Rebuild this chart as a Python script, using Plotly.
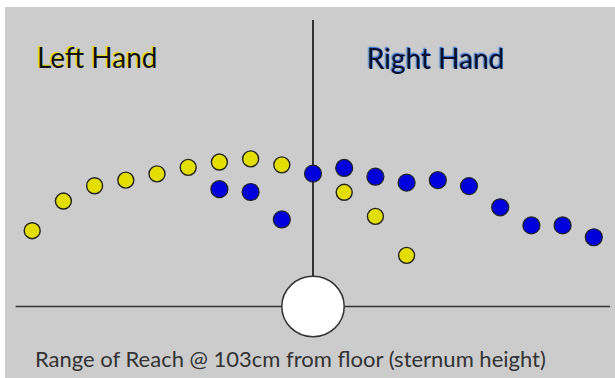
import plotly.graph_objects as go

# Reach positions (grid units, 0 = body centre line / floor line)
left_x = [-9, -8, -7, -6, -5, -4, -3, -2, -1, 1, 2, 3]
left_y = [2.43, 3.38, 3.87, 4.05, 4.25, 4.46, 4.63, 4.73, 4.54, 3.66, 2.89, 1.64]

right_x = [-3, -2, -1, 0, 1, 2, 3, 4, 5, 6, 7, 8, 9]
right_y = [3.76, 3.67, 2.79, 4.26, 4.44, 4.16, 3.97, 4.05, 3.86, 3.18, 2.60, 2.60, 2.22]

labels = ["Left Hand", "Right Hand"]
caption = "Range of Reach @ 103cm from floor (sternum height)"

YELLOW = "#e3de00"
BLUE = "#0000dc"
LINE = "#333333"
BG = "#cccccc"
FONT = "Lato"

fig = go.Figure()

# reference lines and body
fig.add_shape(type="line", x0=-9.53, x1=9.52, y0=0, y1=0, line=dict(color=LINE, width=1.5), layer="below")
fig.add_shape(type="line", x0=0, x1=0, y0=0, y1=9.18, line=dict(color=LINE, width=2), layer="below")
fig.add_shape(type="circle", x0=-1.0, x1=1.0, y0=-0.97, y1=0.97,
              fillcolor="white", line=dict(color=LINE, width=1.5), layer="below")

fig.add_trace(go.Scatter(x=left_x, y=left_y, mode="markers", name=labels[0], hoverinfo="skip",
                         marker=dict(size=16, color=YELLOW, line=dict(color="#222222", width=1.4))))
fig.add_trace(go.Scatter(x=right_x, y=right_y, mode="markers", name=labels[1], hoverinfo="skip",
                         marker=dict(size=17, color=BLUE, line=dict(color="#222222", width=1.2))))

W, H = 615, 378
L, T = 5, 7
PW, PH = W - L, H - T

def px(x):
    return (x - L) / PW

def py(y):
    return (H - y) / PH

anns = [
    dict(text=labels[0], x=px(35), y=py(57),
         font=dict(family=FONT, size=28, color="#111111", shadow="-1.5px -1.5px 1px " + YELLOW)),
    dict(text=labels[1], x=px(365), y=py(58),
         font=dict(family=FONT, size=28, color="#0a0f30", shadow="-1px -1px 1.5px #1a5fd8")),
    dict(text=caption, x=px(33), y=py(358), font=dict(family=FONT, size=22, color="#333333")),
]
for a in anns:
    a.update(xref="paper", yref="paper", xanchor="left", yanchor="middle", showarrow=False)

fig.update_layout(
    width=W, height=H,
    margin=dict(l=L, r=0, t=T, b=0),
    paper_bgcolor="white", plot_bgcolor=BG,
    showlegend=False,
    xaxis=dict(range=[(L - 313) / 31.2, (W - 313) / 31.2], visible=False, fixedrange=True),
    yaxis=dict(range=[(306.5 - H) / 31.2, (306.5 - T) / 31.2], visible=False, fixedrange=True),
    annotations=anns,
)

fig.write_html("out.html", config={"displayModeBar": False, "staticPlot": True},
               post_script="document.body.style.margin='0';document.body.style.overflow='hidden';")
